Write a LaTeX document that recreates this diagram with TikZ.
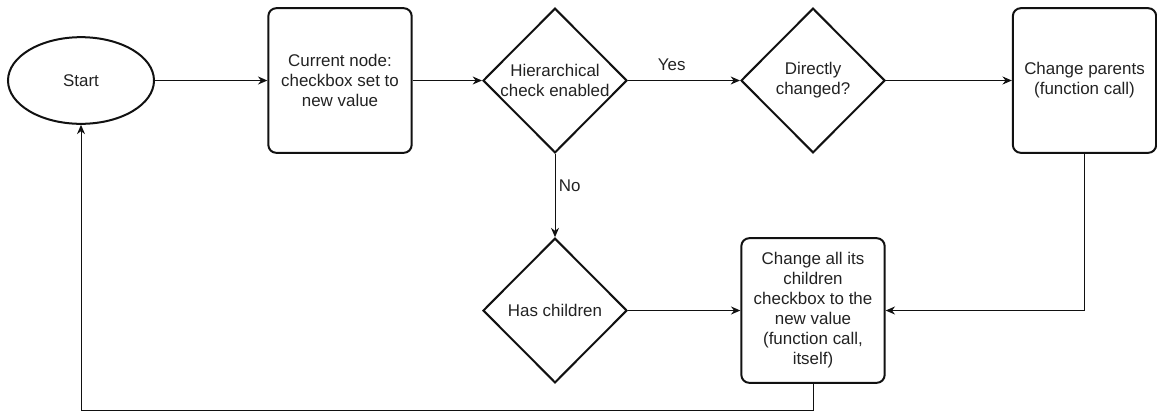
\documentclass[tikz,border=0pt]{standalone}
\usepackage{fontspec}
\setmainfont{Liberation Sans}
\usepackage{tikz}
\usetikzlibrary{arrows.meta,positioning,shapes.geometric}
\definecolor{ink}{HTML}{111111}
\definecolor{lbl}{HTML}{222222}

\begin{document}
\begin{tikzpicture}[x=0.75pt,y=-0.75pt,
   every node/.style={font=\fontsize{12.7}{15}\selectfont,text=lbl,align=center},
   blk/.style={draw=ink,line width=1.5pt,rounded corners=6pt,minimum width=107.5pt,minimum height=108.5pt,inner sep=0pt},
   dia/.style={draw=ink,line width=1.5pt,diamond,minimum width=108pt,minimum height=108.5pt,inner sep=0pt},
   arr/.style={draw=ink,line width=0.75pt,-{Stealth[length=7pt,width=6pt]}}]
  \useasboundingbox (0,0) rectangle (1157,412);
  \node[draw=ink,line width=1.5pt,ellipse,minimum width=109.5pt,minimum height=65pt,inner sep=0pt] (start) at (81,80.5) {Start};
  \node[blk] (cur) at (340,80.5) {Current node:\\checkbox set to\\new value};
  \node[dia,label={center:Hierarchical\\check enabled}] (hier) at (555,80.5) {};
  \node[dia] (direct) at (813,80.5) {Directly\\changed?};
  \node[blk] (parents) at (1084.5,80.5) {Change parents\\(function call)};
  \node[dia] (haschild) at (555,310.5) {Has children};
  \node[blk] (children) at (813,310.5) {Change all its\\children\\checkbox to the\\new value\\(function call,\\itself)};
  \coordinate (back) at (813,410.5);
  \draw[arr] (start) -- (cur);
  \draw[arr] (cur) -- (hier);
  \draw[arr] (hier) -- node[pos=0.39,anchor=base,yshift=7.5pt,inner sep=0pt] (yes) {Yes} (direct);
  \draw[arr] (direct) -- (parents);
  \draw[arr] (parents.south) |- (children.east);
  \draw[arr] (hier) -- node[pos=0.38,anchor=west,xshift=2.5pt,inner sep=0pt] (no) {No} (haschild);
  \draw[arr] (haschild) -- (children);
  \draw[arr] (children.south) -- (back) -| (start.south);
\end{tikzpicture}
\end{document}
